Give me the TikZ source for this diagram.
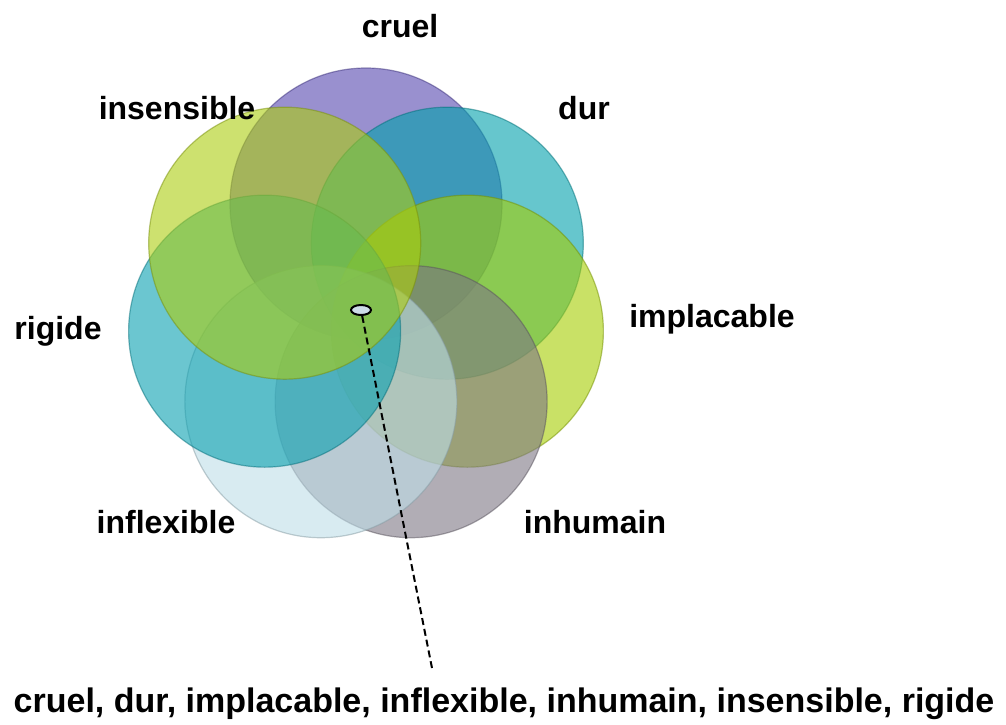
\documentclass[tikz,border=0pt]{standalone}
\usepackage{fontspec}
\setmainfont{Liberation Sans}[Ligatures=NoCommon]
\usetikzlibrary{shapes.geometric}
\definecolor{cruelc}{RGB}{85,70,175}
\definecolor{durc}{RGB}{0,160,172}
\definecolor{implc}{RGB}{165,205,0}
\definecolor{inhumc}{RGB}{125,118,132}
\definecolor{inflexc}{RGB}{190,222,232}
\definecolor{rigidc}{RGB}{8,160,176}
\definecolor{insensc}{RGB}{172,205,15}
\definecolor{dotc}{RGB}{205,220,232}
\tikzset{
  petal/.style={fill=#1, fill opacity=0.6, draw=#1!70!black, draw opacity=0.5, line width=1.2pt},
  word/.style={font=\bfseries\fontsize{32}{36}\selectfont, anchor=base, inner sep=0pt},
}

\begin{document}
\begin{tikzpicture}[x=1pt,y=-1pt]
  % Configurable parameters
  \def\ring{104}
  \def\petalradius{136}
  %
  % Canvas
  \useasboundingbox (0,0) rectangle (1006,724);
  \coordinate (mid) at (366,308);
  %
  % Petals, clockwise from the top
  \foreach \ang/\col in {-90/cruelc, -38.57/durc, 12.86/implc, 64.29/inhumc,
      115.71/inflexc, 167.14/rigidc, 218.57/insensc}
    \draw[petal=\col] ([shift={(\ang:\ring)}]mid) circle [radius=\petalradius];
  %
  % Labels
  \node[word] (cruel) at (400,37) {cruel};
  \node[word] (dur) at (584,119) {dur};
  \node[word] (implacable) at (712,327) {implacable};
  \node[word] (inhumain) at (595,533) {inhumain};
  \node[word] (inflexible) at (166,533) {inflexible};
  \node[word] (rigide) at (58,339) {rigide};
  \node[word] (insensible) at (177,119) {insensible};
  %
  % Common core and its list
  \node[ellipse, draw, fill=dotc, line width=2pt, minimum width=20pt,
    minimum height=10pt, inner sep=0pt] (dot) at (361,310) {};
  \node[word, font=\bfseries\fontsize{34}{38}\selectfont] (all) at (504,712)
    {cruel, dur, implacable, inflexible, inhumain, insensible, rigide};
  \coordinate (tip) at (432,668);
  \draw[line width=2pt, dash pattern=on 7pt off 4pt] (dot) -- (tip);
  %
\end{tikzpicture}
\end{document}
